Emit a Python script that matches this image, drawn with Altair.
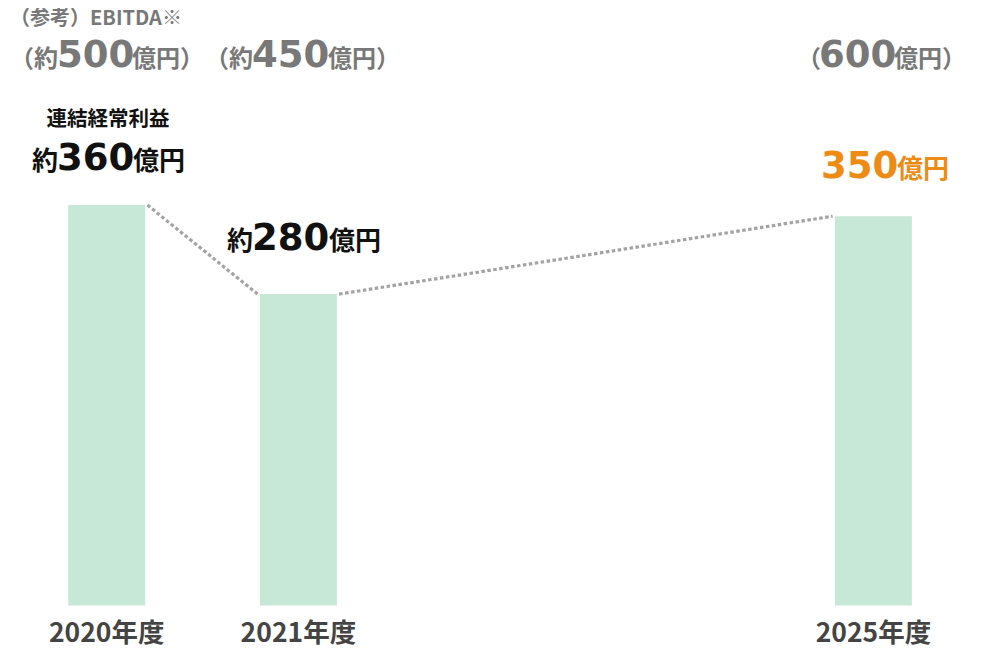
import altair as alt
import pandas as pd

# ---- data ----
years = ["2020年度", "2021年度", "2025年度"]
slots = [0, 1, 4]                 # 2022-2024 are empty slots on the axis
profit = [360, 280, 350]          # 連結経常利益 (億円)
profit_prefix = ["約", "約", ""]
ebitda = [500, 450, 600]          # (参考) EBITDA (億円)
ebitda_prefix = ["（約", "（約", "（"]

BAR = "#c7e8d6"
GRAY = "#787878"
BLACK = "#111111"
ORANGE = "#ee8b14"
LINE = "#a3a3a3"
CJK = "Noto Sans CJK JP"
NUM = "DejaVu Sans"

HALF = 0.2008
NUMSIZE = 37

df = pd.DataFrame({"year": years, "slot": slots, "profit": profit})
seg = pd.DataFrame({"s0": slots[:-1], "v0": profit[:-1], "s1": slots[1:], "v1": profit[1:]})

xscale = alt.Scale(domain=[0, 4], range=[98.7, 865.4], nice=False, zero=False)
yscale = alt.Scale(domain=[0, 537.2], range=[597.5, 0], nice=False)

bars = alt.Chart(df).transform_calculate(
    x0=f"datum.slot - {HALF}", x1=f"datum.slot + {HALF}"
).mark_rect(color=BAR).encode(
    x=alt.X("x0:Q", scale=xscale, axis=None),
    x2="x1:Q",
    y=alt.Y("profit:Q", scale=yscale, axis=None),
    y2=alt.datum(0),
)

lines = alt.Chart(seg).transform_calculate(
    xa=f"datum.s0 + {HALF} + 0.012", xb=f"datum.s1 - {HALF} - 0.012"
).mark_rule(color=LINE, strokeWidth=3.2, strokeDash=[3.5, 2.5]).encode(
    x=alt.X("xa:Q", scale=xscale, axis=None),
    x2="xb:Q",
    y=alt.Y("v0:Q", scale=yscale, axis=None),
    y2="v1:Q",
)

year_labels = alt.Chart(df).mark_text(
    font=CJK, fontWeight="bold", fontSize=26.5, color="#444444", baseline="alphabetic", align="center"
).encode(
    x=alt.X("slot:Q", scale=xscale, axis=None),
    y=alt.value(642 - 8),
    text="year:N",
)


def txt(s, x, y, size, color, font=CJK, align="left", baseline="alphabetic"):
    return alt.Chart(pd.DataFrame({"t": [s]})).mark_text(
        font=font, fontWeight="bold", fontSize=size, color=color,
        align=align, baseline=baseline
    ).encode(text="t:N", x=alt.value(x - 8), y=alt.value(y - 8))


G = 24     # gray CJK size
B = 26     # black/orange CJK size
texts = [
    txt("（参考）EBITDA※", 10, 9, 20, GRAY, baseline="top"),
    # EBITDA row
    txt(ebitda_prefix[0], 58, 67, G, GRAY, align="right"),
    txt(str(ebitda[0]), 57, 67, NUMSIZE, GRAY, font=NUM),
    txt("億円）", 132, 67, G, GRAY),
    txt(ebitda_prefix[1], 253, 67, G, GRAY, align="right"),
    txt(str(ebitda[1]), 252, 67, NUMSIZE, GRAY, font=NUM),
    txt("億円）", 328, 67, G, GRAY),
    txt(ebitda_prefix[2], 821, 67, G, GRAY, align="right"),
    txt(str(ebitda[2]), 819, 67, NUMSIZE, GRAY, font=NUM),
    txt("億円）", 894, 67, G, GRAY),
    # profit labels
    txt("連結経常利益", 108, 126, 20.5, BLACK, align="center"),
    txt(profit_prefix[0], 58, 170, B, BLACK, align="right"),
    txt(str(profit[0]), 57, 170, NUMSIZE, BLACK, font=NUM),
    txt("億円", 133, 170, B, BLACK),
    txt(profit_prefix[1], 253, 250, B, BLACK, align="right"),
    txt(str(profit[1]), 252, 250, NUMSIZE, BLACK, font=NUM),
    txt("億円", 329, 250, B, BLACK),
    txt(str(profit[2]), 821, 178, NUMSIZE, ORANGE, font=NUM),
    txt("億円", 897, 178, B, ORANGE),
]

chart = alt.layer(bars, lines, year_labels, *texts).properties(
    width=974, height=641,
    autosize=alt.AutoSizeParams(type="none"),
    padding=0,
).configure_view(stroke=None)

chart.save("out.html", embed_options={"renderer": "svg", "actions": False})
